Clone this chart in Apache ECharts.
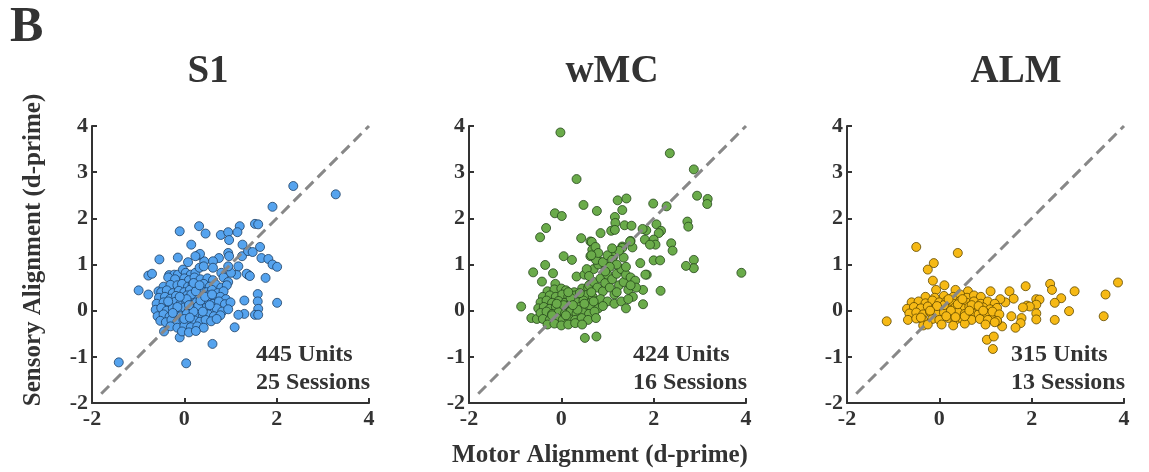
<!DOCTYPE html>
<html>
<head>
<meta charset="utf-8">
<script src="https://cdn.jsdelivr.net/npm/echarts@6/dist/echarts.min.js"></script>
<style>
html,body{margin:0;padding:0;background:#ffffff;}
#chart{width:1149px;height:472px;}
</style>
</head>
<body>
<div id="chart"></div>
<script>
// ---------- data ----------
var panelTitles = ['S1', 'wMC', 'ALM'];
var unitLabels = ['445 Units', '424 Units', '315 Units'];
var sessionLabels = ['25 Sessions', '16 Sessions', '13 Sessions'];
var xAxisName = 'Motor Alignment (d-prime)';
var yAxisName = 'Sensory Alignment (d-prime)';
var panelLetter = 'B';
var diagonal = [[-1.8, -1.8], [4, 4]];

var s1Points = [
  [-1.42,-1.12],[0.04,-1.14],[2.36,2.70],[3.28,2.52],[1.91,2.25],[-0.10,1.72],[0.32,1.83],[0.46,1.67],[0.79,1.64],[0.95,1.70],
  [1.20,1.83],[1.15,1.70],[1.53,1.88],[1.60,1.87],[0.97,1.53],[0.15,1.43],[1.26,1.43],[1.64,1.38],[-0.54,1.11],[-0.14,1.15],
  [-0.99,0.44],[-0.78,0.35],[-0.78,0.76],[-0.70,0.80],[-0.56,0.42],[1.67,1.14],[1.82,1.12],[1.91,1.00],[2.01,0.95],[1.76,0.71],
  [2.01,0.17],[1.59,0.36],[1.59,0.20],[1.60,0.04],[1.53,-0.09],[1.60,-0.09],[1.30,0.22],[1.30,-0.07],[1.17,-0.09],[1.09,-0.36],
  [0.61,-0.72],[-0.44,-0.45],[-0.10,-0.58],[1.38,0.78],[1.35,0.80],[1.42,0.75],[1.13,0.78],[1.01,0.82],[0.95,0.96],[1.17,0.96],
  [1.25,1.18],[1.38,1.29],[1.48,1.27],[0.95,1.25],[0.97,1.18],[0.75,1.14],[0.62,1.07],[0.43,1.07],[0.30,1.20],[0.34,1.23],
  [0.24,1.18],[0.08,1.05],[-0.33,0.77],[-0.22,0.78],[-0.14,0.78],[-0.03,0.89],[0.03,0.82],[0.14,0.78],[0.24,0.82],[0.33,0.93],
  [0.42,0.96],[0.62,0.93],[0.80,0.82],
  [-0.35,0.72],[-0.2,0.68],[0.0,0.70],[0.1,0.66],[0.22,0.72],[0.35,0.68],[0.5,0.70],[0.62,0.66],[0.85,0.72],[0.95,0.62],
  [-0.45,0.52],[-0.3,0.56],[-0.15,0.55],[-0.05,0.58],[0.08,0.52],[0.18,0.57],[0.3,0.53],[0.42,0.58],[0.55,0.52],[0.68,0.57],[0.8,0.5],[0.92,0.55],
  [-0.5,0.4],[-0.38,0.44],[-0.25,0.38],[-0.12,0.43],[0.0,0.40],[0.12,0.45],[0.25,0.39],[0.36,0.44],[0.48,0.4],[0.6,0.45],[0.72,0.38],[0.85,0.42],
  [-0.55,0.28],[-0.42,0.3],[-0.3,0.26],[-0.18,0.32],[-0.05,0.28],[0.06,0.33],[0.16,0.27],[0.28,0.31],[0.4,0.28],[0.52,0.33],[0.64,0.27],[0.78,0.3],[0.9,0.25],
  [-0.6,0.15],[-0.45,0.18],[-0.32,0.14],[-0.2,0.19],[-0.08,0.15],[0.04,0.2],[0.14,0.13],[0.26,0.18],[0.38,0.14],[0.5,0.19],[0.62,0.15],[0.75,0.2],[0.88,0.14],[1.0,0.18],
  [-0.62,0.02],[-0.5,0.06],[-0.38,0.0],[-0.25,0.05],[-0.12,0.02],[0.0,0.07],[0.1,0.0],[0.22,0.05],[0.34,0.01],[0.46,0.06],[0.58,0.0],[0.7,0.05],[0.82,-0.02],[0.95,0.03],
  [-0.58,-0.12],[-0.45,-0.08],[-0.32,-0.13],[-0.2,-0.08],[-0.08,-0.12],[0.05,-0.07],[0.16,-0.13],[0.28,-0.09],[0.4,-0.12],[0.52,-0.08],[0.64,-0.12],[0.78,-0.1],
  [-0.52,-0.22],[-0.4,-0.25],[-0.28,-0.2],[-0.15,-0.24],[-0.02,-0.2],[0.1,-0.25],[0.22,-0.21],[0.34,-0.24],[0.46,-0.2],[0.58,-0.23],
  [-0.3,-0.34],[-0.15,-0.37],[0.0,-0.33],[0.14,-0.36],[0.28,-0.34],[0.42,-0.37],
  [-0.05,-0.45],[0.1,-0.47],[0.25,-0.44],
  [0.15,0.35],[0.3,0.1],[0.05,0.25],[0.2,-0.02],[0.35,0.22],[-0.1,0.3],[0.45,0.3],[0.1,0.12],[0.25,0.42],[-0.15,0.08],
  [0.4,-0.02],[0.55,0.12],[0.0,-0.18],[0.2,0.6],[0.33,0.55],[-0.25,-0.05],[0.12,-0.15],[0.6,0.35],[-0.35,0.2],[0.7,-0.18]
];

var wmcPoints = [
  [-0.02,3.86],[2.35,3.41],[2.87,3.06],[0.33,2.85],[0.48,2.29],[0.77,2.16],[1.22,2.39],[1.41,2.43],[1.32,2.18],[1.99,2.32],
  [2.28,2.26],[2.94,2.49],[3.17,2.42],[3.16,2.31],[-0.14,2.11],[0.01,2.05],[-0.33,1.79],[-0.46,1.59],[1.16,2.03],[1.17,1.90],
  [1.08,1.73],[1.16,1.75],[1.37,1.85],[1.52,1.84],[1.84,1.74],[1.76,1.77],[2.06,1.87],[2.16,1.73],[2.11,1.68],[0.85,1.68],
  [0.43,1.57],[0.63,1.50],[0.66,1.49],[1.50,1.51],[1.81,1.54],[2.00,1.54],[2.04,1.43],[1.92,1.43],[1.54,1.37],[1.32,1.39],
  [2.38,1.46],[2.41,1.30],[2.73,1.93],[2.75,1.82],[2.87,1.10],[2.87,0.92],[2.70,0.97],[3.90,0.82],[2.00,1.09],[2.14,1.09],
  [2.15,0.43],[1.77,0.14],[1.85,0.78],[1.77,0.45],[0.05,1.18],[0.23,1.10],[-0.35,0.99],[-0.61,0.83],[-0.18,0.81],[-0.13,0.58],
  [-0.42,0.63],[-0.87,0.09],[-0.65,-0.16],[-0.53,-0.18],[0.51,-0.59],[0.76,-0.56],[0.33,0.74],[0.50,0.78],
  [0.67,1.32],[0.74,1.38],[0.63,1.18],[0.83,1.07],[0.95,0.96],[1.13,1.18],[1.32,1.36],[1.49,1.50],[1.71,1.03],[1.82,0.78],
  [-0.3,0.42],[-0.15,0.46],[0.0,0.48],[0.1,0.44],[0.28,0.4],[0.45,0.48],[0.58,0.5],
  [-0.4,0.3],[-0.25,0.33],[-0.12,0.3],[0.02,0.35],[0.15,0.3],[0.3,0.33],[0.42,0.28],[0.55,0.34],[0.68,0.3],
  [-0.45,0.18],[-0.32,0.22],[-0.2,0.17],[-0.06,0.21],[0.08,0.17],[0.22,0.22],[0.35,0.18],[0.48,0.22],[0.62,0.16],[0.75,0.2],
  [-0.5,0.05],[-0.38,0.08],[-0.25,0.04],[-0.12,0.09],[0.0,0.05],[0.13,0.1],[0.26,0.04],[0.4,0.08],[0.52,0.03],[0.65,0.07],[0.8,0.05],
  [-0.45,-0.05],[-0.32,-0.02],[-0.2,-0.07],[-0.06,-0.03],[0.08,-0.06],[0.2,-0.02],[0.33,-0.06],[0.46,-0.03],[0.6,-0.07],[0.72,-0.02],
  [-0.4,-0.18],[-0.25,-0.2],[-0.1,-0.16],[0.03,-0.2],[0.16,-0.17],[0.3,-0.2],[0.44,-0.16],[0.58,-0.2],[0.75,-0.16],
  [-0.3,-0.3],[-0.15,-0.28],[0.0,-0.32],[0.15,-0.3],[0.3,-0.27],[0.45,-0.3],
  [0.05,0.12],[0.2,0.28],[-0.1,0.15],[0.35,0.02],[0.1,-0.1],[0.25,0.12],[0.5,0.15],[-0.2,-0.1],[0.4,0.38],[0.15,0.4],
  [0.6,0.55],[0.7,0.62],[0.78,0.5],[0.85,0.7],[0.9,0.42],[0.95,0.6],[1.0,0.78],[1.05,0.5],[1.1,0.68],[1.15,0.35],
  [1.2,0.8],[1.25,0.55],[1.3,0.9],[1.35,0.62],[1.4,0.78],[1.45,0.45],[1.5,0.72],[1.55,0.3],[0.7,0.9],[0.8,1.0],
  [0.75,1.1],[0.9,1.05],[1.0,1.2],[1.1,1.1],[1.2,1.0],[1.05,0.95],[0.95,0.85],[0.85,0.25],[1.0,0.2],[1.15,0.15],
  [1.3,0.2],[1.4,0.05],[1.45,0.25],[0.9,0.1],[1.2,0.4],[0.65,0.4],[0.7,0.2],[1.35,1.15],[1.25,1.3],[1.1,1.35],
  [0.8,1.25],[0.65,1.2],[0.55,0.9],[0.6,0.75],[1.4,0.95],[1.6,0.65],[1.62,0.5],[1.5,0.55]
];

var almPoints = [
  [-0.50,1.38],[0.40,1.25],[-0.12,1.03],[-0.25,0.89],[-0.14,0.65],[0.11,0.55],[-0.07,0.45],[-1.14,-0.23],[1.03,-0.63],[1.18,-0.56],
  [1.16,-0.83],[3.87,0.61],[3.60,0.35],[3.56,-0.12],[2.93,0.42],[2.81,-0.01],[2.64,0.27],[2.40,0.58],[2.44,0.45],[2.50,0.17],
  [2.50,-0.20],[2.10,0.25],[2.17,0.24],[2.10,0.13],[2.10,-0.06],[2.10,-0.19],[1.87,0.53],[1.90,0.11],[1.96,0.09],[1.81,0.07],
  [1.78,-0.16],[1.76,-0.27],[1.65,-0.37],[1.52,0.42],[1.61,0.26],[1.56,-0.12],[1.43,0.18],[1.32,0.25],[1.11,0.42],[1.36,-0.34],
  [1.25,-0.23],[1.14,-0.12],[0.62,0.42],[0.35,0.45],
  [-0.3,0.3],[-0.1,0.28],[0.1,0.32],[0.3,0.3],[0.45,0.35],[0.6,0.28],[0.75,0.33],[0.9,0.3],
  [-0.6,0.18],[-0.45,0.2],[-0.3,0.16],[-0.15,0.22],[0.0,0.18],[0.15,0.2],[0.3,0.15],[0.45,0.21],[0.6,0.17],[0.75,0.2],[0.9,0.15],[1.05,0.2],[1.2,0.15],
  [-0.7,0.04],[-0.55,0.08],[-0.4,0.05],[-0.25,0.09],[-0.1,0.04],[0.05,0.08],[0.2,0.03],[0.35,0.08],[0.5,0.05],[0.65,0.09],[0.8,0.04],[0.95,0.07],[1.1,0.03],[1.25,0.06],
  [-0.65,-0.06],[-0.5,-0.04],[-0.35,-0.08],[-0.2,-0.03],[-0.05,-0.07],[0.1,-0.04],[0.25,-0.08],[0.4,-0.03],[0.55,-0.07],[0.7,-0.04],[0.85,-0.08],[1.0,-0.05],[1.15,-0.02],[1.3,-0.08],
  [-0.68,-0.2],[-0.5,-0.17],[-0.35,-0.2],[-0.15,-0.18],[0.0,-0.2],[0.2,-0.16],[0.35,-0.2],[0.5,-0.18],[0.7,-0.2],[0.88,-0.18],[1.05,-0.2],[1.25,-0.22],
  [-0.35,-0.32],[-0.25,-0.3],[0.05,-0.3],[0.3,-0.32],[0.55,-0.28],[1.0,-0.3],[1.2,-0.25],
  [0.1,0.12],[0.25,0.0],[0.4,0.14],[-0.05,0.1],[0.55,-0.12],[0.7,0.12],[0.15,-0.12],[-0.2,0.0],[0.85,0.1],[0.35,-0.14],
  [0.5,0.25],[0.2,0.25],[0.65,0.0],[0.95,0.0],[-0.4,-0.15]
];

var panelData = [s1Points, wmcPoints, almPoints];
var fillColors = ['#55a3ee', '#6aab4a', '#f6b915'];
var edgeColors = ['#1d3f63', '#25461a', '#5e4700'];

// ---------- layout ----------
var gridLefts = [92, 469, 847];
var gridWidth = 277;
var gridTop = 126;
var gridHeight = 277;
var titleCenters = [208, 612, 1016];
var FONT = '"Liberation Serif", "Times New Roman", serif';
var TXT = '#333333';

var grids = [], xAxes = [], yAxes = [], series = [], graphics = [];
for (var i = 0; i < 3; i++) {
  grids.push({left: gridLefts[i], top: gridTop, width: gridWidth, height: gridHeight});
  var axisCommon = {
    min: -2, max: 4, type: 'value', gridIndex: i,
    splitLine: {show: false},
    axisLine: {show: true, onZero: false, lineStyle: {color: '#333', width: 2}},
    axisTick: {show: true, inside: true, length: 5, lineStyle: {color: '#333', width: 2}},
    axisLabel: {fontFamily: FONT, fontWeight: 'bold', fontSize: 22, color: TXT}
  };
  xAxes.push(Object.assign({}, axisCommon, {interval: 2,
    axisLabel: Object.assign({}, axisCommon.axisLabel, {margin: 5})}));
  yAxes.push(Object.assign({}, axisCommon, {interval: 1,
    axisLabel: Object.assign({}, axisCommon.axisLabel, {margin: 4})}));
  series.push({
    type: 'scatter', xAxisIndex: i, yAxisIndex: i, data: panelData[i],
    symbolSize: 9, z: 2, silent: true,
    itemStyle: {color: fillColors[i], borderColor: edgeColors[i], borderWidth: 0.8, opacity: 1}
  });
  series.push({
    type: 'line', xAxisIndex: i, yAxisIndex: i, data: diagonal,
    symbol: 'none', z: 3, silent: true,
    lineStyle: {color: '#888888', width: 3, type: [11, 6]}
  });
  graphics.push({type: 'text', x: titleCenters[i], y: 72,
    style: {text: panelTitles[i], fontFamily: FONT, fontWeight: 'bold', fontSize: 39, fill: TXT,
      textAlign: 'center', textVerticalAlign: 'middle'}});
  graphics.push({type: 'text', x: gridLefts[i] + 164, y: 355, z: 10,
    style: {text: unitLabels[i], fontFamily: FONT, fontWeight: 'bold', fontSize: 24, fill: TXT,
      textAlign: 'left', textVerticalAlign: 'middle'}});
  graphics.push({type: 'text', x: gridLefts[i] + 164, y: 383, z: 10,
    style: {text: sessionLabels[i], fontFamily: FONT, fontWeight: 'bold', fontSize: 24, fill: TXT,
      textAlign: 'left', textVerticalAlign: 'middle'}});
}
graphics.push({type: 'text', x: 10, y: 28,
  style: {text: panelLetter, fontFamily: FONT, fontWeight: 'bold', fontSize: 50, fill: TXT,
    textAlign: 'left', textVerticalAlign: 'middle'}});
graphics.push({type: 'text', x: 600, y: 456,
  style: {text: xAxisName, fontFamily: FONT, fontWeight: 'bold', fontSize: 25, fill: TXT,
    textAlign: 'center', textVerticalAlign: 'middle'}});
graphics.push({type: 'text', x: 34, y: 250, rotation: Math.PI / 2,
  style: {text: yAxisName, fontFamily: FONT, fontWeight: 'bold', fontSize: 25, fill: TXT,
    textAlign: 'center', textVerticalAlign: 'middle'}});

var chart = echarts.init(document.getElementById('chart'), null, {renderer: 'canvas'});
chart.setOption({
  backgroundColor: '#ffffff',
  animation: false,
  grid: grids, xAxis: xAxes, yAxis: yAxes, series: series, graphic: graphics
});
</script>
</body>
</html>
